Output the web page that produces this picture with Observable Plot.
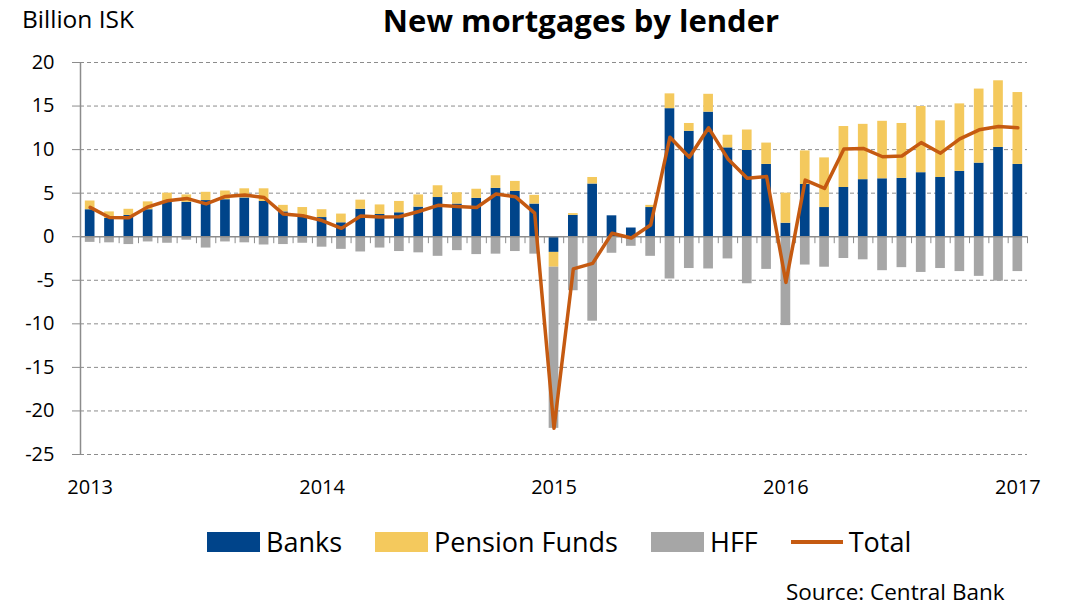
<!DOCTYPE html>
<html><head><meta charset="utf-8">
<script src="https://cdn.jsdelivr.net/npm/d3@7"></script>
<script src="https://cdn.jsdelivr.net/npm/@observablehq/plot@0.6"></script>
<style>
body{margin:0;background:#fff;font-family:"Open Sans",Lato,sans-serif;color:#000;}
#wrap{position:relative;width:1069px;height:608px;overflow:hidden;background:#fff}
#unit{position:absolute;left:22px;top:3px;font-size:24.5px;line-height:32px}
#title{position:absolute;left:0;width:1162px;text-align:center;top:0px;font-size:31px;line-height:40px;font-weight:bold;}
#chart{position:absolute;left:0;top:40px;}
#legend{position:absolute;left:207px;top:524px;display:flex;align-items:center;font-size:27px;line-height:36px;white-space:nowrap}
.item{display:flex;align-items:center;margin-right:33px}
.sw{width:53px;height:20px;margin-right:6px}
.ln{width:52px;height:4px;margin-right:6px}
#source{position:absolute;left:786px;top:577px;font-size:22.5px;line-height:30px}
</style></head><body><div id="wrap">
<div id="unit">Billion ISK</div>
<div id="title">New mortgages by lender</div>
<div id="chart"></div>
<div id="legend"></div>
<div id="source">Source: Central Bank</div>
</div>
<script>
// Monthly categories Jan 2013 – Jan 2017
const months = d3.utcMonth.range(new Date(Date.UTC(2013,0,1)), new Date(Date.UTC(2017,1,1))).map(d3.utcFormat("%Y-%m"));

const banks = [3.1, 2.1, 2.45, 3.1, 3.95, 3.95, 4.15, 4.25, 4.45, 4.05, 2.85, 2.25,
  2.2, 1.6, 3.15, 2.55, 2.75, 3.4, 4.5, 3.75, 4.4, 5.55, 5.2, 3.75,
  -1.8, 2.45, 6.05, 2.4, 1.0, 3.35, 14.7, 12.1, 14.3, 10.2, 9.9, 8.3,
  1.55, 6.0, 3.35, 5.65, 6.55, 6.65, 6.7, 7.35, 6.8, 7.5, 8.45, 10.25, 8.3];
const pensionFunds = [1.0, 0.75, 0.7, 0.9, 1.05, 0.85, 0.95, 1.0, 1.05, 1.45, 0.75, 1.1,
  0.9, 1.0, 1.05, 1.1, 1.3, 1.4, 1.35, 1.3, 1.05, 1.45, 1.15, 1.0,
  -1.7, 0.2, 0.75, -0.15, 0, 0.25, 1.7, 0.9, 2.05, 1.45, 2.35, 2.45,
  3.45, 3.85, 5.7, 7.0, 6.35, 6.6, 6.3, 7.6, 6.5, 7.75, 8.5, 7.65, 8.25];
const hff = [-0.65, -0.7, -0.9, -0.6, -0.75, -0.4, -1.3, -0.6, -0.7, -0.95, -0.9, -0.75,
  -1.2, -1.45, -1.75, -1.3, -1.7, -1.85, -2.25, -1.6, -2.05, -2.0, -1.7, -2.0,
  -18.5, -6.2, -9.7, -1.75, -1.1, -2.25, -4.85, -3.65, -3.7, -2.55, -5.4, -3.75,
  -10.2, -3.25, -3.5, -2.5, -2.65, -3.9, -3.55, -4.1, -3.65, -4.0, -4.55, -5.1, -4.0];
const total = [3.37, 2.2, 2.17, 3.43, 4.13, 4.4, 3.77, 4.63, 4.8, 4.5, 2.6, 2.4,
  1.86, 0.96, 2.37, 2.26, 2.3, 2.9, 3.6, 3.47, 3.35, 4.9, 4.6, 2.7,
  -22.0, -3.69, -3.06, 0.4, -0.15, 1.34, 11.42, 9.13, 12.5, 8.93, 6.72, 6.91,
  -5.24, 6.5, 5.55, 10.07, 10.14, 9.18, 9.26, 10.8, 9.59, 11.24, 12.27, 12.65, 12.5];

const yTicks = [20, 15, 10, 5, 0, -5, -10, -15, -20, -25];
const seriesNames = ["Banks", "Pension Funds", "HFF"];
const seriesColors = ["#00448A", "#F4C95D", "#A6A6A6"];
const totalName = "Total";
const totalColor = "#C55A11";

const rows = [];
months.forEach((m, i) => {
  rows.push({month: m, series: "Banks", value: banks[i]});
  rows.push({month: m, series: "Pension Funds", value: pensionFunds[i]});
  rows.push({month: m, series: "HFF", value: hff[i]});
});
const totals = months.map((m, i) => ({month: m, value: total[i]}));

const width = 1069, height = 474, ml = 80, mr = 42, mt = 22, mb = 60;
const step = (width - ml - mr) / months.length;
const axisGray = "#8c8c8c";

const chart = Plot.plot({
  width, height, marginLeft: ml, marginRight: mr, marginTop: mt, marginBottom: mb,
  style: {fontFamily: "'Open Sans', Lato, sans-serif", fontSize: "20px", color: "#000", background: "transparent", overflow: "visible"},
  x: {type: "band", domain: months, paddingInner: 0.5, paddingOuter: 0.25, round: false, axis: null},
  y: {domain: [-25, 20], axis: null},
  color: {domain: seriesNames, range: seriesColors},
  marks: [
    Plot.ruleY(yTicks.filter(v => v !== 0), {stroke: axisGray, strokeDasharray: "4,3", strokeWidth: 1}),
    Plot.barY(rows, {x: "month", y: "value", fill: "series", order: seriesNames}),
    Plot.ruleY([0], {stroke: axisGray, strokeWidth: 1.5}),
    Plot.ruleX(months, {x: d => d, y1: 0, y2: -0.8, dx: step / 2, stroke: axisGray}),
    Plot.ruleX([months[0]], {dx: -step / 2, stroke: axisGray, strokeWidth: 1.5}),
    Plot.axisY({ticks: yTicks, tickSize: 8, tickPadding: 18, stroke: axisGray, label: null, tickFormat: d => String(d)}),
    Plot.axisX({ticks: months.filter(m => m.endsWith("-01")), tickSize: 0, tickPadding: 25, label: null, tickFormat: m => m.slice(0, 4)}),
    Plot.line(totals, {x: "month", y: "value", stroke: totalColor, strokeWidth: 3.5, strokeLinejoin: "round"})
  ]
});
document.getElementById("chart").appendChild(chart);

const legend = document.getElementById("legend");
seriesNames.forEach((n, i) => {
  const it = document.createElement("div"); it.className = "item";
  it.innerHTML = `<div class="sw" style="background:${seriesColors[i]}"></div><span>${n}</span>`;
  legend.appendChild(it);
});
const it = document.createElement("div"); it.className = "item";
it.innerHTML = `<div class="ln" style="background:${totalColor}"></div><span>${totalName}</span>`;
legend.appendChild(it);
</script>
</body></html>
